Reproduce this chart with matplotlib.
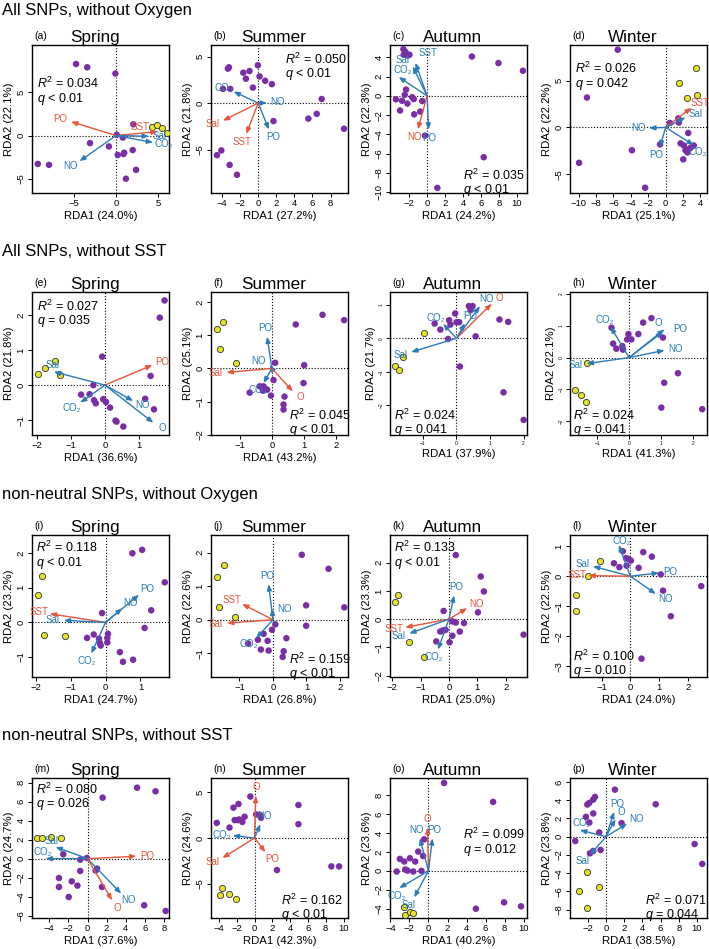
import numpy as np
import matplotlib.pyplot as plt

plt.rcParams['font.family'] = ['Liberation Sans', 'DejaVu Sans']
plt.rcParams['mathtext.fontset'] = 'custom'
plt.rcParams['mathtext.rm'] = 'Liberation Sans'
plt.rcParams['mathtext.it'] = 'Liberation Sans:italic'

PURPLE = '#7A2EA6'
YELLOW = '#E6E324'
RED = '#E8553A'
BLUE = '#2B7BB9'

# ---------------- data ----------------
sections = ['All SNPs, without Oxygen', 'All SNPs, without SST',
            'non-neutral SNPs, without Oxygen', 'non-neutral SNPs, without SST']
seasons = ['Spring', 'Summer', 'Autumn', 'Winter']
tags = list('abcdefghijklmnop')

rda1_pct = [24.0, 27.2, 24.2, 25.1, 36.6, 43.2, 37.9, 41.3,
            24.7, 26.8, 25.0, 24.0, 37.6, 42.3, 40.2, 38.5]
rda2_pct = [22.1, 21.8, 22.3, 22.2, 21.8, 25.1, 21.7, 22.1,
            23.2, 22.6, 23.3, 22.5, 24.7, 24.6, 23.6, 23.8]
r2_vals = ['0.034', '0.050', '0.035', '0.026', '0.027', '0.045', '0.024', '0.024',
           '0.118', '0.159', '0.133', '0.100', '0.080', '0.162', '0.099', '0.071']
q_vals = ['< 0.01', '< 0.01', '< 0.01', '= 0.042', '= 0.035', '< 0.01', '= 0.041', '= 0.041',
          '< 0.01', '< 0.01', '< 0.01', '= 0.010', '= 0.026', '< 0.01', '= 0.012', '= 0.044']

pts_a = [(-4.76, 8.22), (-3.43, 7.84), (-0.08, 7.12), (-9.31, -3.26), (-7.98, -3.37), (-3.10, -0.87),
         (-0.85, -1.25), (0.08, 0.08), (0.81, -0.23), (2.06, 1.29), (0.20, -2.23), (0.89, -2.12),
         (0.97, -1.97), (1.98, -1.67), (2.38, -3.94), (1.17, -4.96)]
yel_a = [(4.23, 1.02), (4.92, 1.17), (5.44, 0.91), (6.09, 0.30)]
arr_a = [('PO', -5.36, 1.59), ('SST', 4.96, 0.45), ('Sal', 3.91, -0.08), ('CO₂', 4.40, -0.80), ('NO', -4.35, -2.95)]
red_a = ['PO', 'SST']

pts_b = [(-3.35, 3.71), (-3.24, 3.85), (-1.65, 3.27), (-0.96, 3.45), (-1.36, 2.62), (-0.04, 4.07),
         (0.15, 2.87), (0.77, 2.40), (1.51, 2.04), (-0.59, 1.67), (-3.90, 1.53), (-3.09, 1.53),
         (7.02, 0.44), (5.55, -1.67), (6.47, -1.16), (9.49, -2.76), (1.69, -1.93), (-4.56, -5.60),
         (-4.08, -5.09), (-3.16, -6.65), (-2.35, -7.71)]
yel_b = []
arr_b = [('CO₂', -2.72, 1.24), ('NO', 0.96, 0.04), ('PO', 1.18, -2.84), ('Sal', -3.90, -1.89), ('SST', -1.32, -3.31)]
red_b = ['Sal', 'SST']

pts_c = [(-2.64, 4.86), (-2.41, 4.57), (-2.15, 4.20), (-2.60, 4.28), (-1.96, 4.28), (4.99, 4.09),
         (7.94, 3.41), (10.67, 2.61), (-2.34, 0.65), (-2.49, 0.11), (-3.46, -0.36), (-2.79, -0.51),
         (-2.19, -0.80), (-1.66, -0.14), (-1.48, -0.33), (-3.01, -1.52), (-1.44, -1.92), (-0.77, -1.63),
         (-0.54, -0.54), (-0.24, -4.13), (6.30, -6.38), (1.14, -9.57)]
yel_c = []
arr_c = [('Sal', -1.60, 3.05), ('SST', -1.30, 3.45), ('CO₂', -3.16, 1.96), ('PO', 0.17, -3.51), ('NO', -1.03, -3.48)]
red_c = ['NO']

pts_d = [(-5.51, 8.30), (-9.05, 3.19), (-9.96, -3.78), (-3.88, -2.44), (-2.36, -6.44), (-0.65, -1.81),
         (0.49, 0.48), (1.52, 0.52), (1.44, 0.96), (2.59, -0.59), (1.71, -1.70), (2.09, -1.93),
         (2.28, -2.44), (2.51, -2.67), (2.59, -2.37), (2.02, -3.41), (3.23, -1.93), (2.85, -2.19)]
yel_d = [(1.52, 4.74), (3.50, 6.30), (2.47, 3.19), (3.65, 3.44)]
arr_d = [('SST', 2.97, 2.11), ('Sal', 2.28, 1.07), ('CO₂', 3.23, -1.89), ('NO', -1.90, -0.07), ('PO', -0.68, -2.11)]
red_d = ['SST']

pts_e = [(1.75, 2.41), (1.61, 1.92), (-0.08, 0.81), (1.34, 0.26), (-0.34, 0.00), (-0.70, -0.27),
         (-0.45, -0.26), (-0.32, -0.43), (-0.27, -0.52), (-0.05, -0.40), (0.03, -0.48), (0.15, -0.64),
         (0.31, -1.01), (0.34, -1.04), (0.54, -1.18), (1.18, -0.39), (1.44, -0.69)]
yel_e = [(-1.97, 0.33), (-1.76, 0.50), (-1.47, 0.68), (-1.32, 0.29)]
arr_e = [('Sal', -1.50, 0.38), ('PO', 1.39, 0.57), ('NO', 0.83, -0.45), ('O', 1.42, -1.07), ('CO₂', -0.72, -0.50)]
red_e = ['PO']

pts_f = [(1.57, 1.62), (2.24, 1.46), (0.74, 1.33), (0.10, 0.17), (1.00, 0.10), (0.05, -0.35),
         (0.98, -0.44), (0.39, -0.85), (0.36, -1.09), (0.36, -1.24), (-0.03, -0.82), (-0.15, -0.64),
         (-0.26, -0.54), (-0.38, -0.54), (-0.28, -0.67), (-0.21, -0.62), (-0.69, -0.73)]
yel_f = [(-1.70, 1.20), (-1.53, 1.40), (-1.61, 0.60), (-1.12, 0.16)]
arr_f = [('PO', -0.15, 0.96), ('NO', -0.07, 0.10), ('Sal', -1.41, -0.12), ('O', 0.65, -0.69), ('CO₂', -0.26, -0.44)]
red_f = ['Sal', 'O']

pts_g = [(0.37, 0.96), (0.48, 0.96), (0.42, 0.84), (-0.04, 0.74), (-0.22, 0.54), (-0.18, 0.41),
         (0.00, 0.48), (0.08, 0.48), (-0.65, 0.44), (-0.48, 0.26), (-0.25, -0.02), (0.57, 0.06),
         (1.28, 0.56), (1.54, 0.49), (0.10, -0.84), (1.40, -1.61), (2.00, -2.43)]
yel_g = [(-0.97, 0.16), (-1.58, -0.56), (-1.82, -0.81), (-1.72, -0.94)]
arr_g = [('NO', 0.70, 0.96), ('O', 1.05, 1.03), ('PO', 0.25, 0.45), ('CO₂', -0.40, 0.43), ('Sal', -1.35, -0.41)]
red_g = ['O']

pts_h = [(-0.55, 0.94), (0.44, 1.10), (0.70, 1.24), (-0.02, 0.74), (-0.06, 0.57), (0.07, 0.57),
         (0.29, 0.74), (-0.50, 0.44), (-0.40, 0.28), (-0.21, 0.36), (-0.19, 0.25), (1.06, 0.63),
         (1.53, -0.49), (1.10, -0.79), (1.01, -1.57), (2.29, -1.62)]
yel_h = [(-1.33, -0.17), (-1.69, -1.02), (-1.51, -1.16), (-1.35, -1.39)]
arr_h = [('CO₂', -0.58, 0.97), ('O', 1.06, 0.81), ('PO', 1.11, 0.89), ('NO', 1.11, 0.23), ('Sal', -1.33, -0.19)]
red_h = []

pts_i = [(0.77, 2.00), (1.05, 2.10), (1.70, 1.16), (1.31, 0.35), (1.12, -0.16), (-0.10, 0.27),
         (-0.34, -0.35), (-0.53, -0.45), (-0.19, -0.47), (-0.16, -0.60), (-0.14, -0.67), (0.07, -0.33),
         (0.05, -0.45), (0.05, -0.58), (0.41, -0.86), (0.50, -1.14), (0.79, -1.08)]
yel_i = [(-1.81, 1.35), (-1.95, 0.80), (-1.77, -0.36), (-1.15, -0.38)]
arr_i = [('SST', -1.60, 0.25), ('Sal', -1.20, 0.06), ('PO', 0.96, 0.80), ('NO', 0.48, 0.41), ('CO₂', -0.41, -0.90)]
red_i = ['SST']

pts_j = [(0.86, 1.94), (1.66, 1.52), (0.99, 0.43), (2.13, 0.37), (0.99, -0.18), (0.07, -0.14),
         (-0.03, -0.30), (0.40, -0.55), (-0.28, -0.42), (-0.45, -0.60), (-0.16, -0.63), (-0.36, -0.89),
         (-0.13, -0.92), (-0.74, -0.71), (0.32, -0.94), (0.29, -1.11)]
yel_j = [(-1.45, 1.64), (-1.67, 1.27), (-1.62, 0.38), (-1.14, 0.08)]
arr_j = [('PO', -0.13, 1.06), ('NO', -0.03, 0.33), ('SST', -0.92, 0.47), ('Sal', -1.37, -0.10), ('CO₂', -0.50, -0.55)]
red_j = ['SST', 'Sal']

pts_k = [(0.24, 2.27), (1.12, 1.51), (1.23, 0.98), (1.02, 0.24), (2.63, -0.55), (-0.19, 0.29),
         (0.12, -0.08), (0.24, -0.12), (0.53, -0.14), (0.38, -0.44), (0.12, -0.59), (0.02, -0.82),
         (-0.45, -0.79), (-0.31, -0.44), (-0.21, -0.40), (-0.12, -0.38)]
yel_k = [(-1.81, 0.86), (-1.89, 0.60), (-1.40, -0.82), (-0.89, -1.34)]
arr_k = [('PO', 0.18, 0.84), ('NO', 0.64, 0.39), ('SST', -1.54, -0.29), ('Sal', -1.40, -0.51), ('CO₂', -0.39, -1.08)]
red_k = ['NO', 'SST']

pts_l = [(-0.26, 0.83), (0.45, 0.80), (0.75, 0.65), (-0.15, 0.60), (-0.06, 0.57), (0.02, 0.52),
         (-0.57, 0.43), (-0.38, 0.30), (-0.13, 0.35), (0.29, 0.28), (1.06, 0.06), (1.14, -0.48),
         (1.41, -1.33), (2.47, -0.33), (0.39, -2.74)]
yel_l = [(-1.05, 0.49), (-1.46, 0.00), (-1.90, -0.64), (-1.90, -1.17)]
arr_l = [('CO₂', -0.40, 1.04), ('Sal', -1.30, 0.33), ('SST', -1.46, 0.02), ('PO', 1.00, 0.11), ('NO', 0.89, -0.59)]
red_l = ['SST']

pts_m = [(1.58, 6.42), (5.18, 7.47), (7.11, 7.09), (-0.77, -0.11), (-0.07, 0.07), (-2.54, 0.46),
         (0.99, -1.05), (0.85, -1.25), (-0.77, -1.30), (-2.99, -2.04), (-2.99, -2.98), (-1.65, -2.39),
         (-1.06, -2.84), (-1.97, -4.04), (1.51, -2.98), (5.92, -4.91), (8.17, -5.51)]
yel_m = [(-5.28, 2.18), (-4.75, 2.18), (-3.80, 2.28), (-2.82, 2.21)]
arr_m = [('PO', 5.11, 0.25), ('Sal', -3.35, 1.23), ('CO₂', -4.40, 0.00), ('NO', 3.52, -3.68), ('O', 2.57, -4.39)]
red_m = ['PO', 'O']

pts_n = [(-0.47, 4.52), (-4.24, 1.65), (-2.81, 1.14), (-2.37, 3.31), (-1.80, 3.71), (-2.23, 1.95),
         (-1.87, 1.95), (-1.73, 2.02), (-1.37, 1.76), (-1.12, 2.32), (0.18, 2.57), (0.65, 2.50),
         (0.72, 2.21), (4.93, 3.60), (4.93, 1.51), (2.52, -3.49), (8.63, -3.09), (9.50, -3.09)]
yel_n = [(-3.60, -5.40), (-3.88, -6.21), (-2.88, -6.14), (-2.09, -6.62)]
arr_n = [('O', 0.14, 4.60), ('NO', 0.65, 1.51), ('CO₂', -2.45, 0.26), ('PO', 1.22, -1.54), ('Sal', -3.60, -2.17)]
red_n = ['O', 'PO', 'Sal']

pts_o = [(1.64, 9.27), (6.79, 7.27), (-0.45, 3.32), (-1.08, 2.03), (-0.56, 1.57), (-1.39, 0.98),
         (-3.00, 1.26), (-1.95, 1.33), (-2.54, 0.98), (-2.44, 0.14), (-2.20, 0.03), (-3.34, -0.07),
         (-1.60, -0.07), (-0.73, 0.00), (4.98, -3.99), (7.94, -3.32), (9.72, -3.74)]
yel_o = [(-2.54, -3.81), (-2.44, -4.62), (-1.95, -4.34), (-1.60, -4.44)]
arr_o = [('O', -0.10, 4.58), ('NO', -0.91, 3.43), ('PO', 0.42, 3.43), ('CO₂', -3.07, -1.82), ('Sal', -1.50, -2.80)]
red_o = ['O']

pts_p = [(0.99, 5.16), (5.47, 3.56), (-1.20, 4.36), (-1.39, 4.07), (-1.82, 3.71), (-2.04, 3.53),
         (-2.19, 2.18), (-1.39, 2.55), (-1.82, 1.56), (-0.73, 0.47), (-3.36, -0.47), (-1.75, -1.82),
         (-1.39, -1.56), (-0.58, -1.45), (1.72, 1.49), (9.74, -0.80), (10.58, -2.98)]
yel_p = [(-2.04, -3.89), (-2.99, -5.93), (-0.73, -5.53), (-2.12, -7.82)]
arr_p = [('PO', 0.91, 2.73), ('O', 1.06, 1.93), ('NO', 2.34, 1.45), ('CO₂', -2.85, 0.73), ('Sal', -1.75, -2.00)]
red_p = []

all_pts = [pts_a, pts_b, pts_c, pts_d, pts_e, pts_f, pts_g, pts_h,
           pts_i, pts_j, pts_k, pts_l, pts_m, pts_n, pts_o, pts_p]
all_yel = [yel_a, yel_b, yel_c, yel_d, yel_e, yel_f, yel_g, yel_h,
           yel_i, yel_j, yel_k, yel_l, yel_m, yel_n, yel_o, yel_p]
all_arr = [arr_a, arr_b, arr_c, arr_d, arr_e, arr_f, arr_g, arr_h,
           arr_i, arr_j, arr_k, arr_l, arr_m, arr_n, arr_o, arr_p]
all_red = [red_a, red_b, red_c, red_d, red_e, red_f, red_g, red_h,
           red_i, red_j, red_k, red_l, red_m, red_n, red_o, red_p]

# ---------------- axes layout ----------------
xlims = [(-10, 6.3), (-5.22, 9.93), (-4.13, 11.12), (-11.0, 4.75),
         (-2.14, 1.88), (-1.89, 2.36), (-1.98, 2.10), (-1.85, 2.44),
         (-2.11, 1.82), (-1.85, 2.24), (-2.08, 2.75), (-2.10, 2.67),
         (-5.81, 8.52), (-4.89, 10.5), (-4.04, 10.35), (-3.94, 11.1)]
ylims = [(-6.6, 10.4), (-9.67, 6.25), (-10.1, 5.29), (-7.0, 8.8),
         (-1.42, 2.65), (-2.01, 2.31), (-2.88, 1.38), (-2.43, 2.06),
         (-1.58, 2.53), (-1.71, 2.53), (-2.05, 2.98), (-3.35, 1.37),
         (-6.25, 8.49), (-8.71, 6.54), (-4.97, 9.79), (-8.91, 6.44)]
xticks = [[-5, 0, 5], range(-4, 9, 2), range(-2, 11, 2), range(-10, 5, 2),
          [-2, -1, 0, 1], [-1, 0, 1, 2], [-1, 0, 1, 2], [-1, 0, 1, 2],
          [-2, -1, 0, 1], [-1, 0, 1, 2], [-2, -1, 0, 1, 2], [-1, 0, 1, 2],
          range(-4, 9, 2), range(-4, 11, 2), range(-4, 11, 2), range(-2, 11, 2)]
yticks = [[-5, 0, 5], [-5, 0, 5], range(-10, 5, 2), [-5, 0, 5],
          [-1, 0, 1, 2], [-2, -1, 0, 1, 2], [-2, -1, 0, 1], [-2, -1, 0, 1, 2],
          [-1, 0, 1, 2], [-1, 0, 1, 2], [-2, -1, 0, 1, 2], [-3, -2, -1, 0, 1],
          range(-6, 9, 2), [-5, 0, 5], range(-4, 9, 2), range(-8, 7, 2)]
# R2 text anchor (axes fraction, left / top)
stat_pos = [(0.037, 0.79), (0.54, 0.955), (0.534, 0.17), (0.036, 0.89),
            (0.037, 0.955), (0.566, 0.19), (0.032, 0.19), (0.024, 0.19),
            (0.032, 0.965), (0.566, 0.18), (0.032, 0.965), (0.024, 0.20),
            (0.032, 0.976), (0.51, 0.18), (0.53, 0.65), (0.546, 0.18)]
# hand-placed arrow labels (offset in points from the tip)
label_offset = {(0, 'SST'): (-13, 3), (2, 'Sal'): (-7, 5), (2, 'SST'): (9, 7),
                (2, 'CO₂'): (3, 5),
                (7, 'O'): (-3, 6), (7, 'PO'): (11, 0), (3, 'CO₂'): (3, -5),
                (12, 'CO₂'): (-2, 5), (12, 'Sal'): (-3, 4), (5, 'NO'): (-8, 3),
                (9, 'NO'): (9, 0), (14, 'CO₂'): (-2, -6), (11, 'CO₂'): (2, 3),
                (4, 'Sal'): (-1, 5), (15, 'CO₂'): (1, 5)}

W, H = 709, 949
fig = plt.figure(figsize=(W / 100, H / 100), dpi=100)

col_left = [32, 211, 390, 570]
col_w = 137
row_top = [45, 292, 535, 778]
row_bot = [193, 435, 677, 918]
sec_y = [11, 252, 494, 736]

for r, s in enumerate(sections):
    fig.text(2 / W, 1 - sec_y[r] / H, s, fontsize=12, ha='left', va='center')

for k in range(16):
    r, c = divmod(k, 4)
    x0, y0 = col_left[c], row_top[r]
    hpx = row_bot[r] - row_top[r]
    ax = fig.add_axes([x0 / W, 1 - row_bot[r] / H, col_w / W, hpx / H])
    ax.set_xlim(*xlims[k])
    ax.set_ylim(*ylims[k])
    ax.axhline(0, color='black', ls=':', lw=0.8, zorder=1)
    ax.axvline(0, color='black', ls=':', lw=0.8, zorder=1)

    p = np.array(all_pts[k])
    ax.scatter(p[:, 0], p[:, 1], s=22, color=PURPLE, edgecolors='none', zorder=3)
    if all_yel[k]:
        yl = np.array(all_yel[k])
        ax.scatter(yl[:, 0], yl[:, 1], s=20, color=YELLOW, edgecolors='#333333',
                   linewidths=0.6, zorder=3)

    xr = xlims[k][1] - xlims[k][0]
    yr = ylims[k][1] - ylims[k][0]
    for name, ex, ey in all_arr[k]:
        col = RED if name in all_red[k] else BLUE
        ax.annotate('', xy=(ex, ey), xytext=(0, 0),
                    arrowprops=dict(arrowstyle='-|>,head_length=0.35,head_width=0.14',
                                    color=col, lw=1.0, shrinkA=0, shrinkB=0), zorder=4)
        # label just beyond the arrow tip, along its direction on screen
        if (k, name) in label_offset:
            off = label_offset[(k, name)]
        else:
            dx = ex / xr * col_w
            dy = ey / yr * hpx
            n = np.hypot(dx, dy)
            off = (8 * dx / n, 6 * dy / n)
        ax.annotate(name, xy=(ex, ey), xytext=off,
                    textcoords='offset points', ha='center', va='center',
                    fontsize=7, color=col, zorder=5)

    small = k in (6, 7)
    ax.set_xticks(list(xticks[k]))
    ax.set_yticks(list(yticks[k]))
    ax.tick_params(direction='out', length=3, width=0.7,
                   labelsize=3.5 if small else 6.8, pad=1.5)
    for lab in ax.get_yticklabels():
        lab.set_rotation(90)
        lab.set_va('center')
    for sp in ax.spines.values():
        sp.set_linewidth(1.0)

    ax.set_xlabel(f'RDA1 ({rda1_pct[k]:.1f}%)', fontsize=8.2, labelpad=2)
    ax.set_ylabel(f'RDA2 ({rda2_pct[k]:.1f}%)', fontsize=8.2, labelpad=2)
    ax.set_title(seasons[c], fontsize=12.3, pad=2, x=0.46)
    ax.text(0.02, 1.03, f'({tags[k]})', transform=ax.transAxes, fontsize=7.5,
            ha='left', va='bottom')

    sx, sy = stat_pos[k]
    ax.text(sx, sy, f'$R^2$ = {r2_vals[k]}\n$q$ {q_vals[k]}', transform=ax.transAxes,
            fontsize=9, ha='left', va='top', linespacing=0.95, zorder=6)

fig.savefig('out.png', dpi=100)
